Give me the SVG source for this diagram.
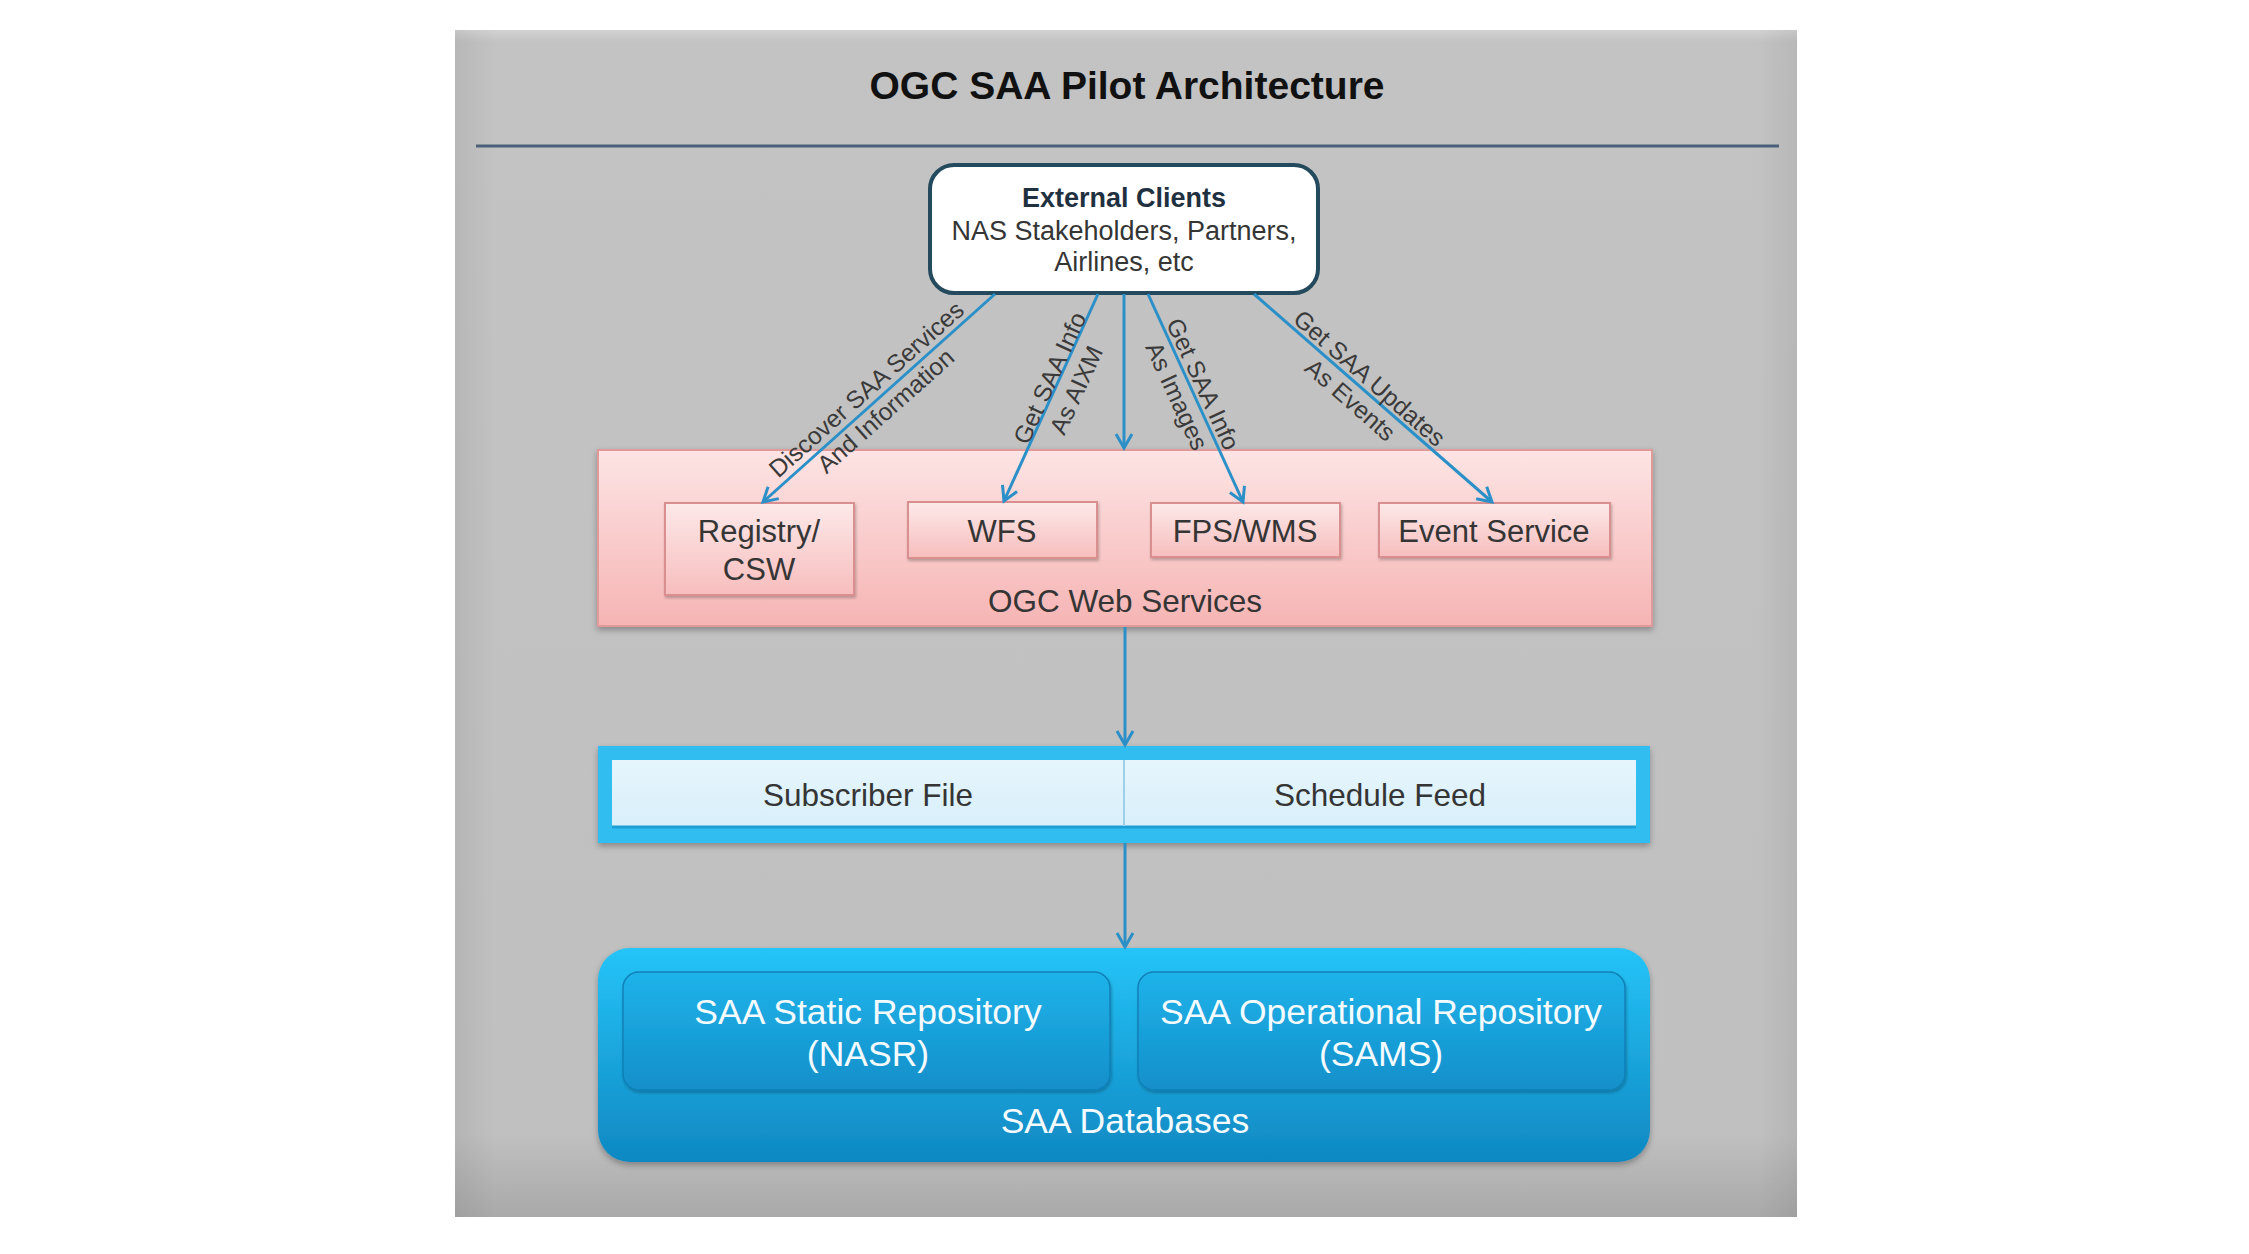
<svg xmlns="http://www.w3.org/2000/svg" width="2249" height="1254" viewBox="0 0 2249 1254">
<defs>
<style>
.t{font-family:"Liberation Sans",Arial,Helvetica,sans-serif;text-anchor:middle}
.dark{fill:#353535}
.white{fill:#f4fbff}
.conn{fill:none;stroke:#2b90c8;stroke-width:3;marker-end:url(#ah)}
.lbl{font-family:"Liberation Sans",Arial,Helvetica,sans-serif;font-size:24.5px;fill:#3a3a3a;text-anchor:middle}
.svc{fill:url(#pinkInner);stroke:#d98f8f;stroke-width:2}
.repo{fill:url(#repoGrad);stroke:#1180b8;stroke-width:1.5}
</style>
<linearGradient id="bgGrad" x1="0" y1="0" x2="0" y2="1">
<stop offset="0" stop-color="#d2d2d2"/>
<stop offset="0.01" stop-color="#c3c3c3"/>
<stop offset="0.93" stop-color="#c0c0c0"/>
<stop offset="1" stop-color="#a9a9a9"/>
</linearGradient>
<linearGradient id="bgSide" x1="0" y1="0" x2="1" y2="0">
<stop offset="0" stop-color="#000" stop-opacity="0.06"/>
<stop offset="0.03" stop-color="#000" stop-opacity="0"/>
<stop offset="0.97" stop-color="#000" stop-opacity="0"/>
<stop offset="1" stop-color="#000" stop-opacity="0.06"/>
</linearGradient>
<linearGradient id="pinkOuter" x1="0" y1="0" x2="0" y2="1">
<stop offset="0" stop-color="#fde4e4"/>
<stop offset="1" stop-color="#f6b4b4"/>
</linearGradient>
<linearGradient id="pinkInner" x1="0" y1="0" x2="0" y2="1">
<stop offset="0" stop-color="#fde9e9"/>
<stop offset="1" stop-color="#f7bdbd"/>
</linearGradient>
<linearGradient id="dbGrad" x1="0" y1="0" x2="0" y2="1">
<stop offset="0" stop-color="#25c4f8"/>
<stop offset="1" stop-color="#0f88c2"/>
</linearGradient>
<linearGradient id="repoGrad" x1="0" y1="0" x2="0" y2="1">
<stop offset="0" stop-color="#1fb3ea"/>
<stop offset="1" stop-color="#138fca"/>
</linearGradient>
<linearGradient id="subInner" x1="0" y1="0" x2="0" y2="1">
<stop offset="0" stop-color="#e6f5fc"/>
<stop offset="1" stop-color="#d8effa"/>
</linearGradient>
<filter id="sh" x="-5%" y="-10%" width="110%" height="130%">
<feDropShadow dx="0" dy="3" stdDeviation="3" flood-color="#000" flood-opacity="0.3"/>
</filter>
<filter id="shs" x="-5%" y="-10%" width="110%" height="130%">
<feDropShadow dx="1" dy="2" stdDeviation="1.5" flood-color="#000" flood-opacity="0.25"/>
</filter>
<marker id="ah" viewBox="0 0 20 20" refX="17" refY="10" markerWidth="20" markerHeight="20" markerUnits="userSpaceOnUse" orient="auto">
<path d="M3,2 L17,10 L3,18" fill="none" stroke="#2b90c8" stroke-width="3"/>
</marker>
</defs>

<rect width="2249" height="1254" fill="#ffffff"/>

<g id="background">
<rect x="455" y="30" width="1342" height="1187" fill="url(#bgGrad)"/>
<rect x="455" y="30" width="1342" height="1187" fill="url(#bgSide)"/>
<text class="t" x="1127" y="99" font-size="39" font-weight="bold" fill="#111">OGC SAA Pilot Architecture</text>
<line x1="476" y1="146" x2="1779" y2="146" stroke="#4a6078" stroke-width="3"/>
</g>

<g id="node-external-clients">
<rect x="930" y="165" width="388" height="128" rx="24" fill="#ffffff" stroke="#244a5d" stroke-width="4"/>
<text class="t" x="1124" y="207" font-size="27" font-weight="bold" fill="#1f3140">External Clients</text>
<text class="t dark" x="1124" y="240" font-size="27" fill="#464646">NAS Stakeholders, Partners,</text>
<text class="t dark" x="1124" y="271" font-size="27" fill="#464646">Airlines, etc</text>
</g>

<g id="node-ogc-web-services">
<rect x="598" y="450" width="1054" height="176" fill="url(#pinkOuter)" stroke="#e19a9a" stroke-width="2" filter="url(#sh)"/>
<text class="t dark" x="1125" y="612" font-size="31.5">OGC Web Services</text>
</g>

<g id="node-registry-csw">
<rect class="svc" x="665" y="503" width="189" height="92" filter="url(#shs)"/>
<text class="t dark" x="759" y="542" font-size="31">Registry/</text>
<text class="t dark" x="759" y="580" font-size="31">CSW</text>
</g>

<g id="node-wfs">
<rect class="svc" x="908" y="502" width="189" height="56" filter="url(#shs)"/>
<text class="t dark" x="1002" y="542" font-size="31">WFS</text>
</g>

<g id="node-fps-wms">
<rect class="svc" x="1151" y="503" width="189" height="54" filter="url(#shs)"/>
<text class="t dark" x="1245" y="542" font-size="31">FPS/WMS</text>
</g>

<g id="node-event-service">
<rect class="svc" x="1379" y="503" width="231" height="54" filter="url(#shs)"/>
<text class="t dark" x="1494" y="542" font-size="31">Event Service</text>
</g>

<g id="node-subscriber-schedule">
<rect x="598" y="746" width="1052" height="97" fill="#33bdf1" filter="url(#sh)"/>
<rect x="612" y="760" width="1024" height="68" fill="url(#subInner)"/>
<line x1="612" y1="827" x2="1636" y2="827" stroke="#1d9fd6" stroke-width="3"/>
<line x1="1124" y1="760" x2="1124" y2="826" stroke="#9fd0ea" stroke-width="2"/>
<text class="t dark" x="868" y="806" font-size="31.5">Subscriber File</text>
<text class="t dark" x="1380" y="806" font-size="31.5">Schedule Feed</text>
</g>

<g id="node-saa-databases">
<rect x="598" y="948" width="1052" height="214" rx="32" fill="url(#dbGrad)" filter="url(#sh)"/>
<text class="t white" x="1125" y="1133" font-size="35.5">SAA Databases</text>
</g>

<g id="node-static-repository">
<rect class="repo" x="623" y="972" width="487" height="118" rx="16" filter="url(#shs)"/>
<text class="t white" x="868" y="1024" font-size="35.5">SAA Static Repository</text>
<text class="t white" x="868" y="1066" font-size="35.5">(NASR)</text>
</g>

<g id="node-operational-repository">
<rect class="repo" x="1138" y="972" width="487" height="118" rx="16" filter="url(#shs)"/>
<text class="t white" x="1381" y="1024" font-size="35.5">SAA Operational Repository</text>
<text class="t white" x="1381" y="1066" font-size="35.5">(SAMS)</text>
</g>

<g id="connectors">
<line class="conn" x1="995" y1="294" x2="763" y2="502"/>
<line class="conn" x1="1098" y1="294" x2="1004" y2="501"/>
<line class="conn" x1="1124" y1="294" x2="1124" y2="448"/>
<line class="conn" x1="1148" y1="294" x2="1243" y2="502"/>
<line class="conn" x1="1254" y1="294" x2="1492" y2="502"/>
<line class="conn" x1="1125" y1="627" x2="1125" y2="745"/>
<line class="conn" x1="1125" y1="843" x2="1125" y2="947"/>

<text class="lbl" transform="translate(876,400) rotate(-41.6)"><tspan x="0" y="-6">Discover SAA Services</tspan><tspan x="0" y="23">And Information</tspan></text>
<text class="lbl" transform="translate(1063,384) rotate(-65.4)"><tspan x="0" y="-6">Get SAA Info</tspan><tspan x="0" y="23">As AIXM</tspan></text>
<text class="lbl" transform="translate(1190,390) rotate(65.3)"><tspan x="0" y="-6">Get SAA Info</tspan><tspan x="0" y="23">As Images</tspan></text>
<text class="lbl" transform="translate(1360,389) rotate(41.2)"><tspan x="0" y="-6">Get SAA Updates</tspan><tspan x="0" y="23">As Events</tspan></text>
</g>
</svg>
